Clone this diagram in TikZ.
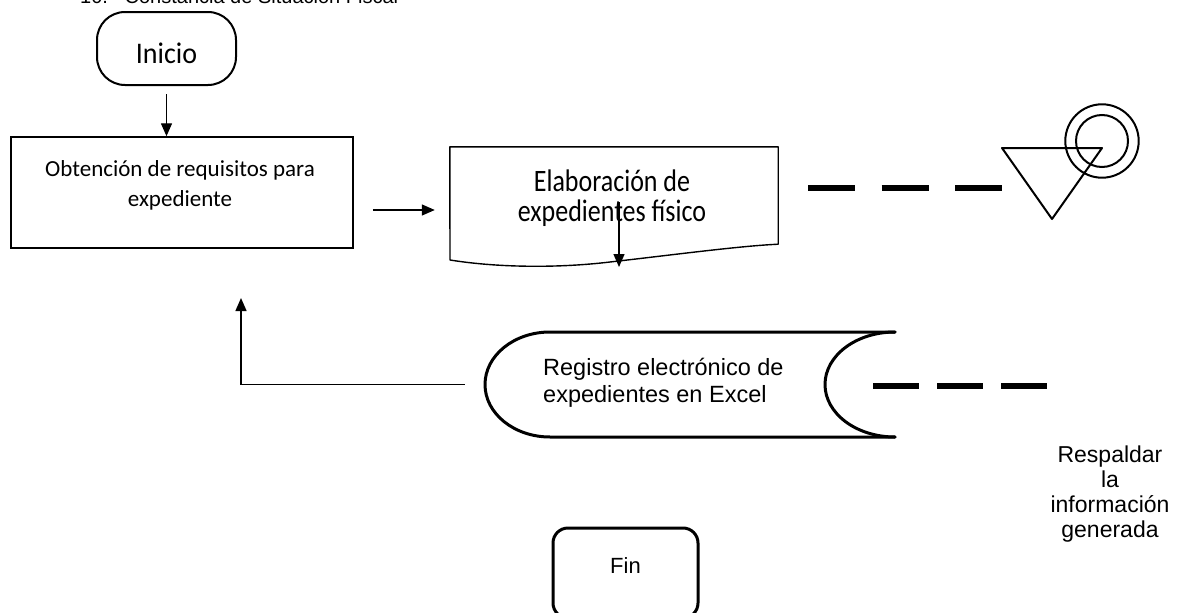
\documentclass[tikz,border=0pt]{standalone}
\usepackage{graphicx}
\usepackage{fontspec}
\setmainfont{Liberation Sans}
\newfontfamily\carl{Carlito}
\usetikzlibrary{arrows.meta}
\begin{document}
\begin{tikzpicture}[x=1pt,y=-1pt,
  arr/.style={-{Triangle[length=13pt,width=11pt]}, line width=1.4pt},
  frame/.style={draw, line width=1.5pt},
  thickdash/.style={line width=6.5pt},
]
\useasboundingbox (0,0) rectangle (1181,613);

% header (cut off at top, as in the reference)
\node[anchor=base west, inner sep=0pt, font=\fontsize{20}{24}\selectfont] (hdr) at (80,4) {10.-\hspace{10pt}Constancia de Situación Fiscal};

% Inicio
\node[draw, line width=2pt, rounded corners=28pt, minimum width=139pt, minimum height=73pt,
      text height=29pt, text depth=0pt, font=\carl\fontsize{28}{34}\selectfont] (inicio) at (166.5,48.5) {\scalebox{1}[1.07]{Inicio}};

% Obtencion
\node[frame, minimum width=342pt, minimum height=111pt] (obt) at (182,192.5) {};
\node[font=\carl\fontsize{23}{30}\selectfont, align=center, inner sep=0pt] (obtT) at (180,185) {Obtención de requisitos para\\expediente};

\draw[arr, shorten <=8pt] (inicio.south) -- (inicio.south |- obt.north);

% Elaboracion (document)
\node[minimum width=328pt, minimum height=97pt] (elab) at (614,195.5) {};
\draw[line width=1.4pt, line join=round] (elab.north west) -- (elab.north east) -- (elab.south east)
  .. controls (740,246) and (680,254) .. (610,262)
  .. controls (560,268) and (500,268) .. (450,260) -- cycle;
\node[inner sep=0pt] (elabT) at (612,200) {\scalebox{1}[1.2]{\carl\fontsize{26}{23.3}\selectfont\begin{tabular}{@{}c@{}}Elaboración de\\expedientes físico\end{tabular}}};

\coordinate (a1) at (0,210);
\draw[arr, shorten <=19pt, shorten >=15pt] (obt.east |- a1) -- (elab.west |- a1);

\coordinate (d1) at (619,202);
\coordinate (d2) at (619,267);
\draw[arr] (d1) -- (d2);

% upper dashes
\coordinate (u1) at (808,188);
\coordinate (u2) at (1002,188);
\draw[thickdash, dash pattern=on 47pt off 26.5pt] (u1) -- (u2);

% triangle and circles
\draw[line width=2pt, line join=round] (1002,148) -- (1102,148) -- (1052,219) -- cycle;
\draw[line width=2pt] (1102,141) circle[radius=36.7pt];
\draw[line width=2pt] (1102,141) circle[radius=26pt];

% Registro (stored data)
\node[minimum width=410pt, minimum height=105pt] (reg) at (690,384.5) {};
\draw[line width=3pt, line cap=round, line join=round]
  (895,332) .. controls (856.3,332) and (825,355.5) .. (825,384.5)
  .. controls (825,413.5) and (856.3,437) .. (895,437);
\draw[line width=3pt, line cap=round, line join=round]
  (895,332) -- (550,332) .. controls (514.1,332) and (485,355.5) .. (485,384.5)
  .. controls (485,413.5) and (514.1,437) .. (550,437) -- (895,437);
\node[font=\fontsize{23.5}{27}\selectfont, align=left, anchor=west, inner sep=0pt] (regT) at (543,383) {Registro electrónico de\\expedientes en Excel};

% feedback arrow
\coordinate (fb) at (241,298);
\draw[arr] ([xshift=-20pt]reg.west) -| (fb);

% lower dashes
\coordinate (l1) at (873,386);
\coordinate (l2) at (1047,386);
\draw[thickdash, dash pattern=on 46pt off 18pt] (l1) -- (l2);

% Respaldar
\node[font=\fontsize{23}{25}\selectfont, align=center, inner sep=0pt] (resp) at (1110,494) {Respaldar\\la\\información\\generada};

% Fin
\node[draw, line width=3pt, rounded corners=15pt, minimum width=145pt, minimum height=90pt,
      text height=0pt, text depth=0pt, font=\fontsize{22}{26}\selectfont] (fin) at (625.5,573) {Fin};
\end{tikzpicture}
\end{document}
